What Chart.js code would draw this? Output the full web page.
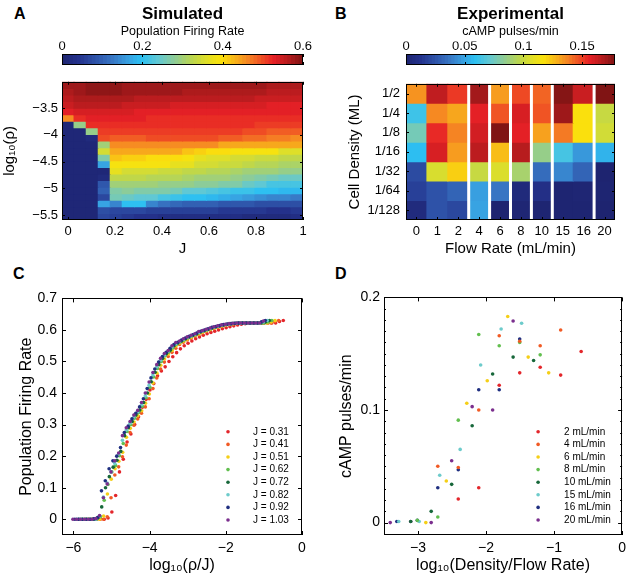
<!DOCTYPE html>
<html>
<head>
<meta charset="utf-8">
<title>Simulated vs experimental firing</title>
<script src="https://cdn.jsdelivr.net/npm/chart.js@4.4.1/dist/chart.umd.min.js"></script>
<style>
  html, body { margin: 0; padding: 0; background: #fff; }
  body { position: relative; width: 631px; height: 583px; overflow: hidden; font-family: 'Liberation Sans', Arial, sans-serif; }
  .panel { position: absolute; }
  .tag { position: absolute; font-size: 16px; font-weight: bold; line-height: 16px; }
</style>
</head>
<body>
<div class="tag" style="left:14px;top:6px">A</div>
<div class="tag" style="left:335px;top:6px">B</div>
<div class="tag" style="left:13px;top:266px">C</div>
<div class="tag" style="left:335px;top:266px">D</div>

<div class="panel" style="left:32px;top:0;width:301px;height:66px"><canvas id="barA"></canvas></div>
<div class="panel" style="left:390px;top:0;width:241px;height:66px"><canvas id="barB"></canvas></div>
<div class="panel" style="left:0;top:70px;width:315px;height:200px"><canvas id="heatA"></canvas></div>
<div class="panel" style="left:330px;top:70px;width:301px;height:200px"><canvas id="heatB"></canvas></div>
<div class="panel" style="left:0;top:285px;width:315px;height:298px"><canvas id="scatC"></canvas></div>
<div class="panel" style="left:315px;top:285px;width:316px;height:298px"><canvas id="scatD"></canvas></div>

<script>
'use strict';

// ---- A: simulated population firing rate (rows = log10 rho, top to bottom; cols = J) ----
const rateRange = [0, 0.6];
const jCols = [0, 0.051, 0.103, 0.154, 0.205, 0.256, 0.308, 0.359, 0.41, 0.462,
               0.513, 0.564, 0.615, 0.667, 0.718, 0.769, 0.821, 0.872, 0.923, 0.974];
const rhoRows = [-3.073, -3.196, -3.319, -3.441, -3.564, -3.687, -3.809, -3.932, -4.055, -4.178, -4.3,
                 -4.423, -4.546, -4.668, -4.791, -4.914, -5.037, -5.159, -5.282, -5.405, -5.527];
const firingRate = [
  [0.58,0.58,0.59,0.59,0.59,0.58,0.58,0.58,0.58,0.58,0.58,0.58,0.58,0.58,0.58,0.58,0.58,0.57,0.57,0.57],
  [0.57,0.58,0.59,0.59,0.59,0.58,0.58,0.58,0.58,0.58,0.57,0.57,0.57,0.57,0.57,0.57,0.57,0.56,0.56,0.56],
  [0.56,0.57,0.57,0.57,0.57,0.57,0.56,0.56,0.56,0.56,0.56,0.56,0.56,0.56,0.56,0.56,0.55,0.55,0.55,0.55],
  [0.55,0.56,0.56,0.56,0.56,0.55,0.55,0.55,0.55,0.54,0.54,0.54,0.54,0.54,0.54,0.54,0.54,0.53,0.53,0.53],
  [0.53,0.54,0.54,0.54,0.54,0.54,0.53,0.53,0.53,0.53,0.53,0.53,0.53,0.53,0.53,0.53,0.53,0.53,0.53,0.53],
  [0.46,0.52,0.53,0.53,0.53,0.53,0.53,0.52,0.52,0.52,0.52,0.52,0.52,0.52,0.52,0.52,0.52,0.52,0.52,0.52],
  [0.01,0.29,0.52,0.52,0.52,0.52,0.52,0.52,0.52,0.52,0.52,0.52,0.52,0.52,0.52,0.52,0.51,0.51,0.51,0.51],
  [0.01,0.01,0.29,0.51,0.51,0.51,0.51,0.51,0.51,0.51,0.51,0.51,0.51,0.51,0.51,0.50,0.50,0.49,0.49,0.49],
  [0.01,0.01,0.02,0.50,0.49,0.49,0.49,0.50,0.50,0.50,0.50,0.50,0.50,0.49,0.49,0.48,0.48,0.47,0.47,0.46],
  [0.01,0.01,0.01,0.30,0.46,0.46,0.46,0.46,0.46,0.46,0.46,0.46,0.46,0.44,0.44,0.44,0.44,0.44,0.44,0.44],
  [0.01,0.01,0.01,0.35,0.44,0.44,0.44,0.44,0.44,0.44,0.42,0.41,0.40,0.40,0.39,0.39,0.39,0.39,0.36,0.36],
  [0.01,0.01,0.01,0.27,0.42,0.41,0.41,0.40,0.40,0.40,0.39,0.37,0.36,0.36,0.35,0.35,0.34,0.34,0.33,0.33],
  [0.01,0.01,0.01,0.17,0.39,0.39,0.39,0.39,0.39,0.37,0.37,0.35,0.35,0.34,0.34,0.33,0.32,0.32,0.31,0.31],
  [0.01,0.01,0.01,0.01,0.37,0.35,0.35,0.35,0.34,0.34,0.33,0.33,0.32,0.32,0.31,0.30,0.30,0.30,0.29,0.29],
  [0.01,0.01,0.01,0.02,0.33,0.33,0.33,0.32,0.32,0.32,0.31,0.30,0.30,0.30,0.29,0.28,0.27,0.26,0.25,0.25],
  [0.01,0.01,0.01,0.09,0.30,0.30,0.30,0.30,0.29,0.29,0.29,0.28,0.28,0.27,0.27,0.25,0.24,0.22,0.22,0.22],
  [0.01,0.01,0.01,0.10,0.27,0.28,0.27,0.27,0.27,0.26,0.24,0.24,0.23,0.22,0.21,0.21,0.20,0.20,0.19,0.19],
  [0.01,0.01,0.01,0.07,0.26,0.25,0.24,0.24,0.22,0.21,0.20,0.20,0.19,0.18,0.17,0.16,0.15,0.14,0.14,0.13],
  [0.01,0.01,0.01,0.17,0.14,0.20,0.20,0.14,0.12,0.11,0.10,0.10,0.10,0.09,0.09,0.09,0.08,0.08,0.08,0.08],
  [0.01,0.01,0.01,0.08,0.07,0.07,0.07,0.06,0.06,0.06,0.06,0.06,0.06,0.05,0.05,0.05,0.05,0.04,0.04,0.05],
  [0.01,0.01,0.01,0.07,0.06,0.05,0.04,0.04,0.03,0.03,0.03,0.03,0.03,0.03,0.03,0.02,0.02,0.02,0.02,0.03]
];

// ---- B: experimental cAMP pulse rate (rows = density, cols = flow rate) ----
const campRange = [0, 0.178];
const flowRates = [0, 1, 2, 4, 6, 8, 10, 15, 16, 20];
const flowLabels = ['0', '1', '2', '4', '6', '8', '10', '15', '16', '20'];
const densities = [0.5, 0.25, 0.125, 0.0625, 0.03125, 0.015625, 0.0078125];
const densityLabels = ['1/2', '1/4', '1/8', '1/16', '1/32', '1/64', '1/128'];
const campRate = [
  [0.135, 0.165, 0.152, 0.171, 0.133, 0.149, 0.144, 0.177, 0.163, 0.179],
  [0.063, 0.137, 0.131, 0.157, 0.147, 0.160, 0.147, 0.172, 0.118, 0.100],
  [0.077, 0.155, 0.138, 0.161, 0.183, 0.157, 0.132, 0.140, 0.118, 0.103],
  [0.058, 0.160, 0.133, 0.166, 0.126, 0.167, 0.086, 0.065, 0.047, 0.055],
  [0.022, 0.105, 0.122, 0.100, 0.106, 0.091, 0.034, 0.042, 0.031, 0.000],
  [0.018, 0.025, 0.031, 0.049, 0.037, 0.005, 0.010, 0.001, 0.002, 0.001],
  [0.006, 0.025, 0.021, 0.050, 0.000, 0.002, 0.001, 0.001, 0.001, 0.000]
];
const runBreaks = [2.5, 3.5, 4.5, 5.5, 6.5, 8.5];   // white lines between separate runs

// ---- C: firing rate against log10(rho) for several J ----
const jLegend = [0.31, 0.41, 0.51, 0.62, 0.72, 0.82, 0.92, 1.03];
const logRho = [-6, -5.9, -5.8, -5.7, -5.6, -5.5, -5.4, -5.3, -5.2, -5.1,
                -5, -4.9, -4.8, -4.7, -4.6, -4.5, -4.4, -4.3, -4.2, -4.1,
                -4, -3.9, -3.8, -3.7, -3.6, -3.5, -3.4, -3.3, -3.2, -3.1,
                -3, -2.9, -2.8, -2.7, -2.6, -2.5, -2.4, -2.3, -2.2, -2.1,
                -2, -1.9, -1.8, -1.7, -1.6, -1.5, -1.4, -1.3, -1.2, -1.1, -1];
const rateJ031 = [0, 0, 0, 0, 0.004, 0.023, 0.075, 0.15, 0.19, 0.245,
  0.27, 0.3, 0.325, 0.355, 0.38, 0.41, 0.43, 0.455, 0.47, 0.483,
  0.5, 0.515, 0.528, 0.54, 0.55, 0.558, 0.565, 0.572, 0.578, 0.583,
  0.588, 0.592, 0.596, 0.6, 0.604, 0.607, 0.61, 0.613, 0.616, 0.618,
  0.62, 0.621, 0.622, 0.622, 0.622, 0.622, 0.622, 0.622, 0.622, 0.627, 0.63];
const rateJ041 = [0, 0, 0, 0, 0, 0.008, 0.068, 0.14, 0.166, 0.198,
  0.235, 0.275, 0.298, 0.318, 0.336, 0.356, 0.382, 0.414, 0.448, 0.476,
  0.498, 0.516, 0.529, 0.542, 0.554, 0.561, 0.568, 0.574, 0.58, 0.585,
  0.59, 0.596, 0.6, 0.604, 0.608, 0.611, 0.614, 0.617, 0.619, 0.62,
  0.621, 0.622, 0.622, 0.622, 0.622, 0.622, 0.622, 0.622, 0.622, 0.626, 0.63];
const rateJ051 = [0, 0, 0, 0, 0, 0.01, 0.08, 0.127, 0.16, 0.184,
  0.212, 0.26, 0.288, 0.308, 0.328, 0.344, 0.368, 0.397, 0.432, 0.463,
  0.488, 0.508, 0.524, 0.535, 0.549, 0.558, 0.564, 0.571, 0.577, 0.583,
  0.587, 0.593, 0.598, 0.602, 0.606, 0.61, 0.613, 0.616, 0.618, 0.62,
  0.621, 0.622, 0.622, 0.622, 0.622, 0.622, 0.622, 0.622, 0.622, 0.625, 0.63];
const rateJ062 = [0, 0, 0, 0, 0, 0.008, 0.06, 0.11, 0.15, 0.17,
  0.201, 0.24, 0.278, 0.3, 0.32, 0.338, 0.358, 0.385, 0.418, 0.451,
  0.478, 0.5, 0.518, 0.53, 0.543, 0.555, 0.562, 0.568, 0.575, 0.58,
  0.585, 0.591, 0.596, 0.6, 0.604, 0.608, 0.611, 0.614, 0.617, 0.619,
  0.62, 0.621, 0.622, 0.622, 0.622, 0.622, 0.622, 0.622, 0.622, 0.625, 0.63];
const rateJ072 = [0, 0, 0, 0, 0, 0.005, 0.039, 0.1, 0.135, 0.165,
  0.187, 0.215, 0.265, 0.29, 0.31, 0.33, 0.346, 0.37, 0.4, 0.436,
  0.466, 0.49, 0.51, 0.525, 0.536, 0.55, 0.559, 0.565, 0.572, 0.578,
  0.583, 0.588, 0.594, 0.598, 0.602, 0.606, 0.61, 0.613, 0.616, 0.618,
  0.62, 0.621, 0.622, 0.622, 0.622, 0.622, 0.622, 0.622, 0.622, 0.625, 0.63];
const rateJ082 = [0, 0, 0, 0, 0, 0, 0.01, 0.07, 0.115, 0.15,
  0.177, 0.207, 0.25, 0.283, 0.304, 0.324, 0.341, 0.363, 0.391, 0.425,
  0.457, 0.483, 0.504, 0.52, 0.533, 0.546, 0.556, 0.563, 0.57, 0.576,
  0.581, 0.586, 0.592, 0.597, 0.601, 0.605, 0.609, 0.612, 0.615, 0.617,
  0.619, 0.621, 0.622, 0.622, 0.622, 0.622, 0.622, 0.622, 0.622, 0.625, 0.63];
const rateJ092 = [0, 0, 0, 0, 0, 0.001, 0.005, 0.09, 0.122, 0.16,
  0.185, 0.2, 0.227, 0.275, 0.295, 0.318, 0.336, 0.356, 0.382, 0.414,
  0.448, 0.476, 0.498, 0.516, 0.529, 0.542, 0.554, 0.561, 0.568, 0.574,
  0.58, 0.585, 0.59, 0.596, 0.6, 0.604, 0.608, 0.611, 0.614, 0.617,
  0.619, 0.62, 0.621, 0.622, 0.622, 0.622, 0.622, 0.622, 0.622, 0.626, 0.63];
const rateJ103 = [0, 0, 0, 0, 0, 0, 0.002, 0.012, 0.068, 0.112,
  0.15, 0.185, 0.21, 0.265, 0.29, 0.31, 0.33, 0.345, 0.37, 0.4,
  0.435, 0.465, 0.49, 0.51, 0.525, 0.535, 0.55, 0.56, 0.565, 0.572,
  0.578, 0.583, 0.588, 0.595, 0.598, 0.602, 0.606, 0.61, 0.613, 0.616,
  0.618, 0.62, 0.621, 0.622, 0.622, 0.622, 0.622, 0.622, 0.622, 0.622, 0.628];
const rateByJ = [rateJ031, rateJ041, rateJ051, rateJ062, rateJ072, rateJ082, rateJ092, rateJ103];

// ---- D: flow rates shown as separate series ----
const dFlows = [2, 4, 6, 8, 10, 15, 16, 20];

const seriesColors = ['#e3262b', '#f15a24', '#f5cf17', '#62bf4f', '#17673a', '#6dcbcb', '#1f2f80', '#7b2f8e'];

const FONT = "'Liberation Sans', Arial, sans-serif";
Chart.defaults.font.family = FONT;
Chart.defaults.color = '#000';
Chart.defaults.animation = false;
Chart.defaults.plugins.legend.display = false;
Chart.defaults.plugins.tooltip.enabled = false;

// jet-like colour map, toned like the printed figure
const JET = [
  [0.00, 30, 36, 112], [0.07, 36, 50, 140], [0.14, 46, 82, 168], [0.21, 56, 118, 196],
  [0.28, 56, 162, 226], [0.33, 44, 192, 242], [0.40, 96, 200, 212], [0.47, 142, 204, 150],
  [0.54, 186, 214, 80], [0.61, 228, 224, 34], [0.66, 250, 226, 12], [0.72, 248, 180, 26],
  [0.78, 245, 128, 36], [0.84, 238, 70, 36], [0.88, 230, 32, 38], [0.94, 182, 28, 30],
  [1.00, 128, 20, 20]
];
function jet(t) {
  t = Math.min(1, Math.max(0, t));
  let k = 1;
  while (k < JET.length - 1 && JET[k][0] < t) k++;
  const [t0, r0, g0, b0] = JET[k - 1], [t1, r1, g1, b1] = JET[k];
  const f = (t - t0) / (t1 - t0);
  return `rgb(${Math.round(r0 + (r1 - r0) * f)},${Math.round(g0 + (g1 - g0) * f)},${Math.round(b0 + (b1 - b0) * f)})`;
}

const fmt = v => Number(v.toFixed(3)).toString().replace('-', '\u2212');

function linAxis(min, max, step, size, pad, fit, title, labels) {
  const ax = {
    type: 'linear', min, max, offset: false,
    grid: { display: false, drawTicks: false }, border: { display: false },
    ticks: {
      stepSize: step, includeBounds: false, autoSkip: false, maxRotation: 0,
      padding: pad, font: { size },
      callback: labels ? (v => labels[v]) : fmt
    },
    title: title ? { display: true, text: title.text, font: { size: title.size }, padding: title.pad } : { display: false },
    afterFit: s => { if (s.isHorizontal()) s.height = fit; else s.width = fit; }
  };
  // category-like axes: one tick per label, at integer positions
  if (labels) ax.afterBuildTicks = s => { s.ticks = labels.map((l, i) => ({ value: i })); };
  return ax;
}

// box round the axes with inward ticks, MATLAB style
const matlabBox = {
  id: 'matlabBox',
  afterDraw(chart, args, opts) {
    const { ctx, chartArea: a } = chart;
    const len = opts.tick ?? 4;
    ctx.save();
    ctx.strokeStyle = '#000';
    ctx.lineWidth = 1;
    ctx.beginPath();
    for (const s of Object.values(chart.scales)) {
      if (!s.options.display) continue;
      const marks = s.ticks.map(t => [t.value, len]);
      const minor = opts.minor && opts.minor[s.id];
      if (minor) {
        for (let v = Math.ceil(s.min / minor) * minor; v <= s.max; v += minor) marks.push([v, len / 2]);
      }
      for (const [v, l] of marks) {
        const p = Math.round(s.getPixelForValue(v)) + 0.5;
        if (s.isHorizontal()) {
          ctx.moveTo(p, a.top); ctx.lineTo(p, a.top + l);
          ctx.moveTo(p, a.bottom); ctx.lineTo(p, a.bottom - l);
        } else {
          ctx.moveTo(a.left, p); ctx.lineTo(a.left + l, p);
          ctx.moveTo(a.right, p); ctx.lineTo(a.right - l, p);
        }
      }
    }
    ctx.stroke();
    ctx.strokeRect(Math.round(a.left) + 0.5, Math.round(a.top) + 0.5,
                   Math.round(a.right - a.left) - 1, Math.round(a.bottom - a.top) - 1);
    ctx.restore();
  }
};

const runGaps = {
  id: 'runGaps',
  afterDatasetsDraw(chart, args, opts) {
    const { ctx, chartArea: a, scales: { x } } = chart;
    ctx.save();
    ctx.strokeStyle = '#fff';
    ctx.lineWidth = opts.width;
    ctx.beginPath();
    opts.at.forEach(v => {
      const p = x.getPixelForValue(v);
      ctx.moveTo(p, a.top); ctx.lineTo(p, a.bottom);
    });
    ctx.stroke();
    ctx.restore();
  }
};

// legend drawn inside the plot, lower right
const dotLegend = {
  id: 'dotLegend',
  afterDatasetsDraw(chart, args, o) {
    const { ctx, chartArea: a } = chart;
    const sets = chart.data.datasets;
    ctx.save();
    ctx.font = `${o.size}px ${FONT}`;
    ctx.textBaseline = 'middle';
    ctx.textAlign = 'left';
    sets.forEach((d, i) => {
      const y = a.bottom - o.bottom - (sets.length - 1 - i) * o.gap;
      ctx.fillStyle = d.backgroundColor;
      ctx.beginPath();
      ctx.arc(a.right - o.dot, y, 1.8, 0, Math.PI * 2);
      ctx.fill();
      ctx.fillStyle = '#000';
      ctx.fillText(d.label, a.right - o.text, y);
    });
    ctx.restore();
  }
};

const cellBar = { grouped: false, barPercentage: 1, categoryPercentage: 1, borderWidth: 0, inflateAmount: 0.5 };

// colour bar: 64 flat steps of the colour map along a linear axis
function colorbar(id, range, step, title, subtitle, side) {
  const levels = 64;
  const width = (range[1] - range[0]) / levels;
  const steps = Array.from({ length: levels }, (_, k) => range[0] + (k + 0.5) * width);
  return new Chart(document.getElementById(id), {
    type: 'bar',
    data: {
      datasets: [{
        data: steps.map(v => ({ x: v, y: [0, 1] })),
        backgroundColor: steps.map((v, k) => jet((k + 0.5) / levels)),
        ...cellBar
      }]
    },
    options: {
      responsive: true, maintainAspectRatio: false,
      layout: { padding: { left: side, right: side, bottom: 1 } },
      plugins: {
        title: { display: true, text: title, font: { size: 17, weight: 'bold' }, padding: { top: 4, bottom: 0 } },
        subtitle: { display: true, text: subtitle, font: { size: 12.5 }, padding: { top: 0, bottom: 2 } },
        matlabBox: { tick: 3 }
      },
      scales: {
        x: { ...linAxis(range[0], range[1], step, 13, 0, 12.6), position: 'top' },
        y: { display: false, min: 0, max: 1 }
      }
    },
    plugins: [matlabBox]
  });
}

colorbar('barA', rateRange, 0.2, 'Simulated', 'Population Firing Rate', 30);
colorbar('barB', campRange, 0.05, 'Experimental', 'cAMP pulses/min', 16);

// A heatmap: one floating-bar dataset per rho row
const rowHalf = (rhoRows[0] - rhoRows[1]) / 2;
new Chart(document.getElementById('heatA'), {
  type: 'bar',
  data: {
    datasets: rhoRows.map((rho, r) => ({
      data: jCols.map(j => ({ x: j, y: [rho - rowHalf, rho + rowHalf] })),
      backgroundColor: firingRate[r].map(v => jet(v / rateRange[1])),
      ...cellBar
    }))
  },
  options: {
    responsive: true, maintainAspectRatio: false,
    layout: { padding: { top: 4, right: 12 } },
    plugins: { matlabBox: { tick: 3 } },
    scales: {
      x: linAxis(-0.0257, 1, 0.2, 13, 4, 50, { text: 'J', size: 15, pad: { bottom: 12 } }),
      y: linAxis(rhoRows[20] - rowHalf, rhoRows[0] + rowHalf, 0.5, 13, 4, 62,
                 { text: 'log\u2081\u2080(\u03C1)', size: 15, pad: { top: 1 } })
    }
  },
  plugins: [matlabBox]
});

// B heatmap: rows = densities, columns = flow-rate index
new Chart(document.getElementById('heatB'), {
  type: 'bar',
  data: {
    datasets: densities.map((d, r) => ({
      data: flowRates.map((f, c) => ({ x: c, y: [r - 0.5, r + 0.5] })),
      backgroundColor: campRate[r].map(v => jet(v / campRange[1])),
      ...cellBar
    }))
  },
  options: {
    responsive: true, maintainAspectRatio: false,
    layout: { padding: { top: 4, right: 16 } },
    plugins: { matlabBox: { tick: 3 }, runGaps: { at: runBreaks, width: 3 } },
    scales: {
      x: linAxis(-0.5, flowRates.length - 0.5, 1, 13, 4, 50,
                 { text: 'Flow Rate (mL/min)', size: 15, pad: { bottom: 12 } }, flowLabels),
      y: { ...linAxis(-0.5, densities.length - 0.5, 1, 13, 6, 76,
                 { text: 'Cell Density (ML)', size: 15, pad: { top: 16 } }, densityLabels), reverse: true }
    }
  },
  plugins: [runGaps, matlabBox]
});

// C scatter: x = log10(rho / J)
new Chart(document.getElementById('scatC'), {
  type: 'scatter',
  data: {
    datasets: jLegend.map((j, i) => ({
      label: `J = ${j.toFixed(2)}`,
      data: logRho.map((lr, k) => ({ x: lr - Math.log10(j), y: rateByJ[i][k] })),
      backgroundColor: seriesColors[i], borderWidth: 0, pointRadius: 1.8,
      order: jLegend.length - 1 - i
    }))
  },
  options: {
    responsive: true, maintainAspectRatio: false,
    layout: { padding: { top: 11, right: 13 } },
    plugins: {
      matlabBox: { tick: 4 },
      dotLegend: { dot: 74, text: 49, bottom: 15, gap: 12.6, size: 10 }
    },
    scales: {
      x: linAxis(-6.3, 0, 2, 14, 5, 48, { text: 'log\u2081\u2080(\u03C1/J)', size: 16, pad: { bottom: 8 } }),
      y: linAxis(-0.05, 0.7, 0.1, 14, 5, 62, { text: 'Population Firing Rate', size: 16, pad: { top: 17 } })
    }
  },
  plugins: [dotLegend, matlabBox]
});

// D scatter: x = log10(density / flow rate), y read from the B matrix
new Chart(document.getElementById('scatD'), {
  type: 'scatter',
  data: {
    datasets: dFlows.map((f, i) => ({
      label: `${f} mL/min`,
      data: densities.map((d, r) => ({ x: Math.log10(d / f), y: campRate[r][flowRates.indexOf(f)] })),
      backgroundColor: seriesColors[i], borderWidth: 0, pointRadius: 1.8
    }))
  },
  options: {
    responsive: true, maintainAspectRatio: false,
    layout: { padding: { top: 11, right: 7 } },
    plugins: {
      matlabBox: { tick: 4, minor: { y: 0.01 } },
      dotLegend: { dot: 84, text: 58, bottom: 15, gap: 12.6, size: 10 }
    },
    scales: {
      x: linAxis(-3.5, 0, 1, 14, 5, 48, { text: 'log\u2081\u2080(Density/Flow Rate)', size: 16, pad: { bottom: 8 } }),
      y: linAxis(-0.011, 0.2, 0.1, 14, 4, 69, { text: 'cAMP pulses/min', size: 16, pad: { top: 22 } })
    }
  },
  plugins: [dotLegend, matlabBox]
});
</script>
</body>
</html>
